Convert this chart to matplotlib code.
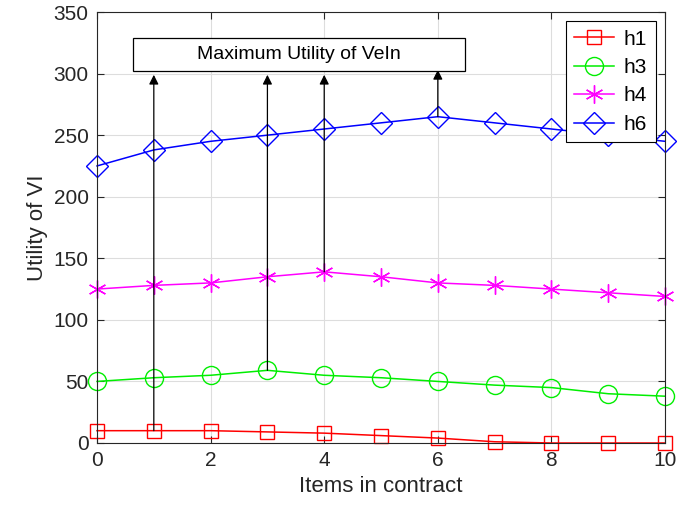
import matplotlib.pyplot as plt
from matplotlib.patches import Rectangle

plt.rcParams['font.family'] = ['Liberation Sans', 'DejaVu Sans']

# Data
items = [0, 1, 2, 3, 4, 5, 6, 7, 8, 9, 10]
h1 = [10, 10, 10, 9, 8, 6, 4, 1, 0, 0, 0]
h3 = [50, 53, 55, 59, 55, 53, 50, 47, 45, 40, 38]
h4 = [125, 128, 130, 135, 139, 135, 130, 128, 125, 122, 119]
h6 = [225, 238, 245, 250, 255, 260, 265, 260, 255, 250, 245]

# Arrows pointing to the annotation box: (x, start y, end y)
arrow_x = [1, 3, 4, 6]
arrow_from = [10, 59, 139, 265]
arrow_to = [299, 299, 299, 303]
label_text = 'Maximum Utility of VeIn'

fig = plt.figure(figsize=(6.9, 5.18), dpi=100)
ax = fig.add_axes([0.1406, 0.1448, 0.8232, 0.832])

ax.plot(items, h1, color='red', marker='s', markersize=10, markerfacecolor='none',
        linewidth=1.1, clip_on=False, label='h1')
ax.plot(items, h3, color='#00ee00', marker='o', markersize=13, markerfacecolor='none',
        linewidth=1.1, clip_on=False, label='h3')
ax.plot(items, h4, color='magenta', marker=(6, 2, 0), markersize=13,
        linewidth=1.1, clip_on=False, label='h4')
ax.plot(items, h6, color='blue', marker='D', markersize=11, markerfacecolor='none',
        linewidth=1.1, clip_on=False, label='h6')

# Annotation box and arrows
ax.add_patch(Rectangle((0.63, 302), 5.85, 27, facecolor='white', edgecolor='black',
                       linewidth=0.9, zorder=5))
ax.text(3.56, 315.5, label_text, ha='center', va='center', fontsize=14, zorder=6)
for x, y0, y1 in zip(arrow_x, arrow_from, arrow_to):
    ax.annotate('', xy=(x, y1), xytext=(x, y0),
                arrowprops=dict(arrowstyle='-|>', color='black', lw=0.9,
                                mutation_scale=14, shrinkA=0, shrinkB=0),
                zorder=4)

ax.set_xlim(0, 10)
ax.set_ylim(0, 350)
ax.set_xticks([0, 2, 4, 6, 8, 10])
ax.set_yticks(range(0, 351, 50))
ax.tick_params(direction='in', top=True, right=True, labelsize=15, length=5,
               pad=6, colors='#262626')
ax.grid(True, color='#dddddd', linewidth=0.8)
ax.set_axisbelow(True)
for s in ax.spines.values():
    s.set_color('#262626')
    s.set_linewidth(0.8)

ax.set_xlabel('Items in contract', fontsize=16, color='#262626')
ax.set_ylabel('Utility of VI', fontsize=16, color='#262626', labelpad=4)

leg = ax.legend(loc='upper right', fontsize=15, fancybox=False, framealpha=1,
                edgecolor='black', borderaxespad=0.45, handlelength=1.9,
                handletextpad=0.5, labelspacing=0.45, borderpad=0.4)
leg.get_frame().set_linewidth(0.8)
leg.set_zorder(10)

plt.savefig('out.png', dpi=100)
